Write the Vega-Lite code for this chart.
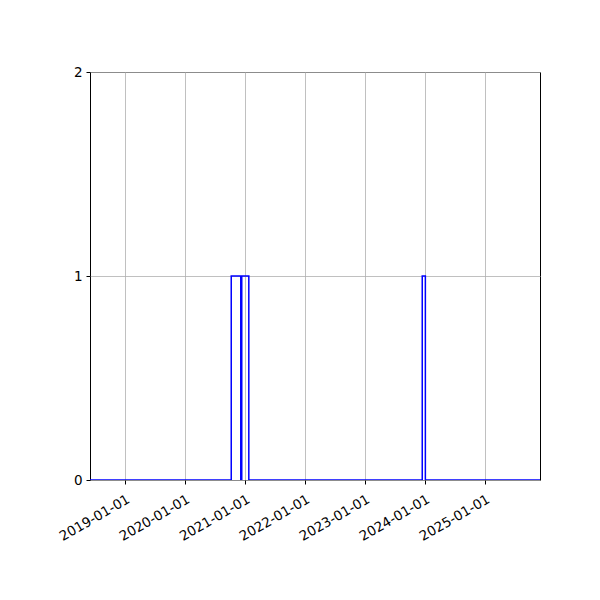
{
  "$schema": "https://vega.github.io/schema/vega-lite/v6.json",
  "autosize": "none",
  "padding": {"left": 90, "top": 72, "right": 60, "bottom": 120},
  "width": 450,
  "height": 408,
  "background": "white",
  "config": {
    "view": {"stroke": "black", "strokeWidth": 1},
    "axis": {
      "labelFont": "DejaVu Sans",
      "labelFontSize": 13.5,
      "labelColor": "black",
      "labelOverlap": false,
      "domain": false,
      "zindex": 0,
      "tickColor": "black",
      "tickSize": 4,
      "gridColor": "#b0b0b0",
      "gridWidth": 0.8,
      "gridOpacity": 1,
      "title": null
    }
  },
  "data": {
    "values": [
      {"date": "2018-06-03", "count": 0},
      {"date": "2020-10-10", "count": 1},
      {"date": "2020-12-07", "count": 0},
      {"date": "2020-12-13", "count": 1},
      {"date": "2021-01-25", "count": 0},
      {"date": "2023-12-17", "count": 1},
      {"date": "2024-01-05", "count": 0},
      {"date": "2025-12-03", "count": 0}
    ]
  },
  "mark": {"type": "line", "interpolate": "step-after", "color": "blue", "strokeWidth": 1.5, "clip": true},
  "encoding": {
    "x": {
      "field": "date",
      "type": "temporal",
      "scale": {
        "type": "utc",
        "domain": [
          {"year": 2018, "month": 6, "date": 3, "utc": true},
          {"year": 2025, "month": 12, "date": 3, "utc": true}
        ]
      },
      "axis": {
        "values": [
          {"year": 2019, "month": 1, "date": 1, "utc": true},
          {"year": 2020, "month": 1, "date": 1, "utc": true},
          {"year": 2021, "month": 1, "date": 1, "utc": true},
          {"year": 2022, "month": 1, "date": 1, "utc": true},
          {"year": 2023, "month": 1, "date": 1, "utc": true},
          {"year": 2024, "month": 1, "date": 1, "utc": true},
          {"year": 2025, "month": 1, "date": 1, "utc": true}
        ],
        "labelExpr": "utcFormat(datum.value, '%Y-%m-%d')",
        "labelAngle": -30,
        "labelAlign": "right",
        "labelBaseline": "top",
        "labelPadding": 8,
        "grid": true
      }
    },
    "y": {
      "field": "count",
      "type": "quantitative",
      "scale": {"domain": [0, 2], "nice": false},
      "axis": {"values": [0, 1, 2], "labelExpr": "format(datum.value, 'd')", "grid": true, "labelPadding": 4}
    }
  }
}
